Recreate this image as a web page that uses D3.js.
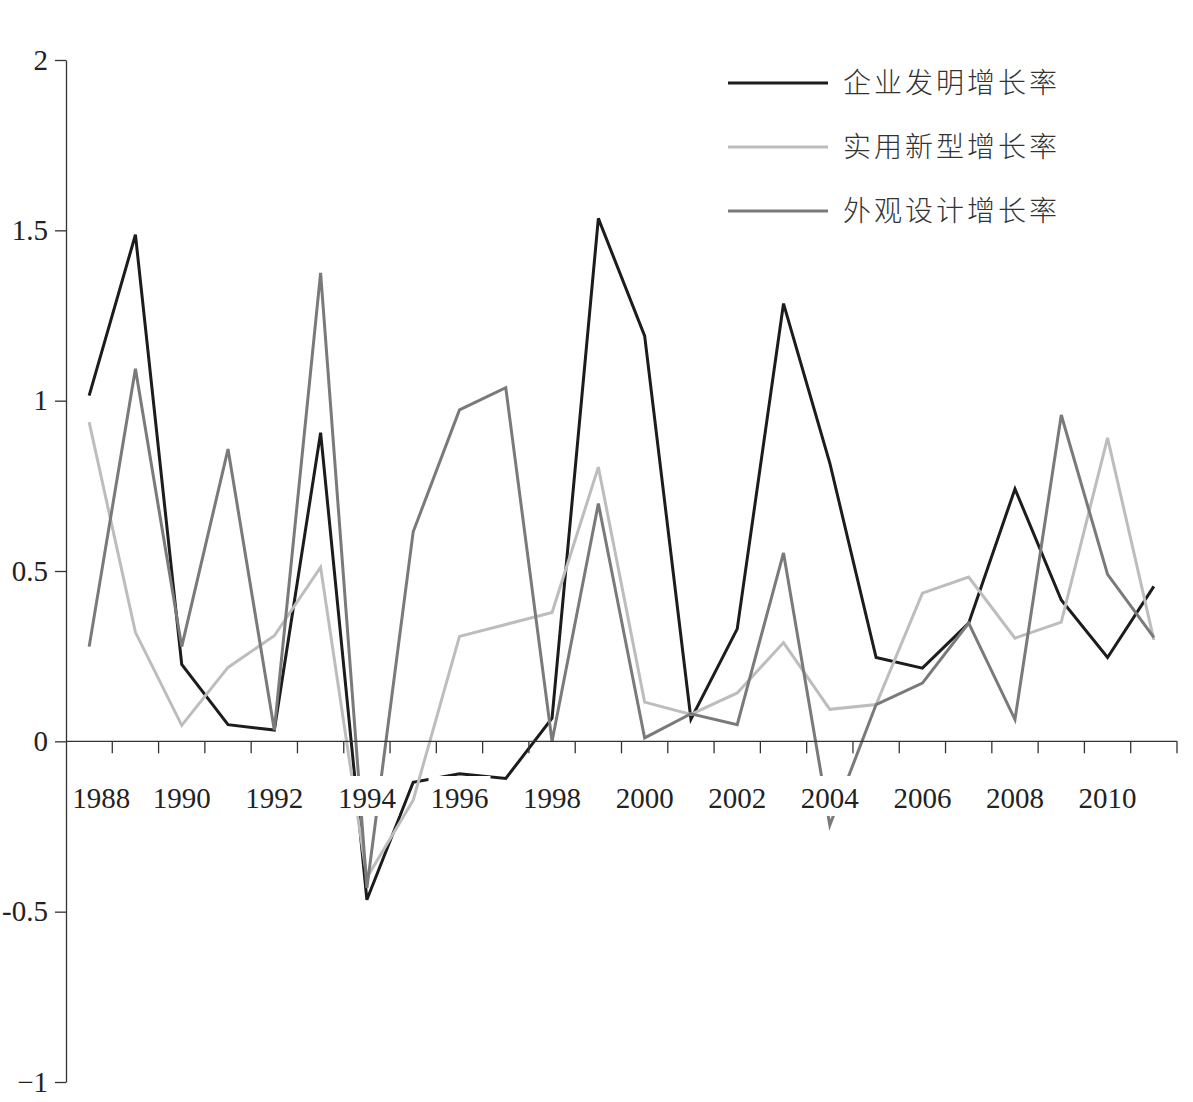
<!DOCTYPE html>
<html>
<head>
<meta charset="utf-8">
<script src="https://cdn.jsdelivr.net/npm/d3@7"></script>
<style>
  body { margin: 0; background: #fff; }
  svg { display: block; }
</style>
</head>
<body>
<div id="chart"></div>
<script>
// years on the x axis
const years = [1988, 1989, 1990, 1991, 1992, 1993, 1994, 1995, 1996, 1997, 1998, 1999,
               2000, 2001, 2002, 2003, 2004, 2005, 2006, 2007, 2008, 2009, 2010, 2011];

// 企业发明增长率
const invention = [1.015, 1.487, 0.226, 0.049, 0.033, 0.906, -0.465, -0.12, -0.095, -0.109, 0.068, 1.535,
                   1.19, 0.065, 0.33, 1.285, 0.817, 0.246, 0.215, 0.347, 0.741, 0.415, 0.246, 0.455];
// 实用新型增长率
const utility = [0.937, 0.32, 0.047, 0.217, 0.31, 0.511, -0.4, -0.173, 0.308, 0.343, 0.378, 0.805,
                 0.115, 0.079, 0.142, 0.29, 0.094, 0.108, 0.435, 0.482, 0.303, 0.35, 0.891, 0.298];
// 外观设计增长率
const design = [0.278, 1.094, 0.278, 0.858, 0.033, 1.375, -0.43, 0.615, 0.973, 1.038, 0.0, 0.698,
                0.01, 0.081, 0.049, 0.553, -0.246, 0.108, 0.171, 0.347, 0.064, 0.958, 0.49, 0.305];

const seriesNames = ["企业发明增长率", "实用新型增长率", "外观设计增长率"];
const yTicks = [-1, -0.5, 0, 0.5, 1, 1.5, 2];
const yTickLabels = ["−1", "-0.5", "0", "0.5", "1", "1.5", "2"];
const xLabelYears = [1988, 1990, 1992, 1994, 1996, 1998, 2000, 2002, 2004, 2006, 2008, 2010];

const width = 1193, height = 1102;
const margin = { left: 66, right: 1177, top: 60, bottom: 1082 };
const colors = ["#1c1c1c", "#bdbdbd", "#7a7a7a"];
const serif = "'Liberation Serif', 'DejaVu Serif', serif";

const svg = d3.select("#chart").append("svg")
    .attr("width", width)
    .attr("height", height);

const x = d3.scaleBand().domain(years).range([margin.left, margin.right]).paddingInner(0).paddingOuter(0);
const y = d3.scaleLinear().domain([-1, 2]).range([margin.bottom, margin.top]);
const cx = d => x(d) + x.bandwidth() / 2;

// y axis
const yAxis = svg.append("g")
    .attr("transform", "translate(" + margin.left + ",0)")
    .call(d3.axisLeft(y)
        .tickValues(yTicks)
        .tickSize(11)
        .tickSizeOuter(0)
        .tickPadding(7)
        .tickFormat((d, i) => yTickLabels[i]));
yAxis.select(".domain").attr("stroke", "#333").attr("stroke-width", 1.3);
yAxis.selectAll(".tick line").attr("stroke", "#333").attr("stroke-width", 1.3);
yAxis.selectAll(".tick text")
    .attr("font-family", serif)
    .attr("font-size", 29)
    .attr("fill", "#222");

// lines
const line = d3.line()
    .x((d, i) => cx(years[i]))
    .y(d => y(d));

[invention, utility, design].forEach(function(vals, k) {
    svg.append("path")
        .datum(vals)
        .attr("d", line)
        .attr("fill", "none")
        .attr("stroke", colors[k])
        .attr("stroke-width", 3)
        .attr("stroke-linejoin", "miter");
});

// x axis at zero
const xAxis = svg.append("g");
xAxis.append("line")
    .attr("x1", margin.left).attr("x2", margin.right)
    .attr("y1", y(0)).attr("y2", y(0))
    .attr("stroke", "#333").attr("stroke-width", 1.3);

const tickPos = years.slice(1).map(d => x(d)).concat([margin.right]);
xAxis.selectAll(".xt")
    .data(tickPos)
    .enter().append("line")
    .attr("class", "xt")
    .attr("x1", d => d).attr("x2", d => d)
    .attr("y1", y(0)).attr("y2", y(0) + 12)
    .attr("stroke", "#333").attr("stroke-width", 1.3);

// year labels with white boxes behind them
const labels = xAxis.selectAll(".xl")
    .data(xLabelYears)
    .enter().append("g")
    .attr("class", "xl");

labels.append("text")
    .attr("x", (d, i) => cx(d) + (i === 0 ? 12 : 0))
    .attr("y", 808)
    .attr("text-anchor", "middle")
    .attr("font-family", serif)
    .attr("font-size", 29)
    .attr("fill", "#222")
    .text(d => d);

labels.each(function() {
    const g = d3.select(this);
    const b = g.select("text").node().getBBox();
    g.insert("rect", "text")
        .attr("x", b.x - 2)
        .attr("y", b.y - 6)
        .attr("width", b.width + 4)
        .attr("height", b.height + 8)
        .attr("fill", "#fff");
});

// legend
const legend = svg.append("g");
seriesNames.forEach(function(name, k) {
    const ly = 83 + k * 64;
    legend.append("line")
        .attr("x1", 728).attr("x2", 828)
        .attr("y1", ly).attr("y2", ly)
        .attr("stroke", colors[k])
        .attr("stroke-width", 3);
    legend.append("text")
        .attr("x", 843)
        .attr("y", ly)
        .attr("dy", "0.36em")
        .attr("font-family", "'Noto Sans CJK SC', sans-serif")
        .attr("font-size", 28)
        .attr("font-weight", 300)
        .attr("letter-spacing", 3)
        .attr("fill", "#333")
        .text(name);
});
</script>
</body>
</html>
